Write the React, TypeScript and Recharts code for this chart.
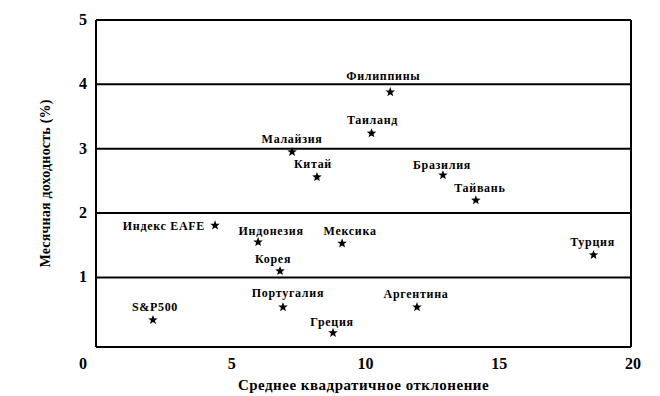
import React from 'react';
import { ScatterChart, Scatter, XAxis, YAxis, CartesianGrid, ReferenceLine, Label } from 'recharts';

const countries = ['Филиппины', 'Таиланд', 'Малайзия', 'Китай', 'Бразилия', 'Тайвань', 'Индекс EAFE', 'Индонезия', 'Мексика', 'Турция', 'Корея', 'Португалия', 'Аргентина', 'S&P500', 'Греция'];
const stdDev = [11.0, 10.3, 7.33, 8.26, 12.97, 14.2, 4.45, 6.06, 9.2, 18.6, 6.88, 6.99, 12.0, 2.13, 8.86];
const monthlyReturn = [3.88, 3.24, 2.95, 2.56, 2.59, 2.2, 1.81, 1.55, 1.53, 1.35, 1.1, 0.54, 0.54, 0.34, 0.14];
const xTicks = [0, 5, 10, 15, 20];
const yTicks = [1, 2, 3, 4, 5];
const xTitle = 'Среднее квадратичное отклонение';
const yTitle = 'Месячная доходность (%)';

const data = countries.map((name, i) => ({ name, x: stdDev[i], y: monthlyReturn[i] }));

// label placement relative to the star (style only)
const placement: Record<string, { dx: number; dy: number; anchor: 'middle' | 'end' | 'start' }> = {
  'Филиппины': { dx: -7, dy: -12, anchor: 'middle' },
  'Таиланд': { dx: 1, dy: -9, anchor: 'middle' },
  'Малайзия': { dx: 0, dy: -9, anchor: 'middle' },
  'Китай': { dx: -4, dy: -9, anchor: 'middle' },
  'Бразилия': { dx: -1, dy: -6, anchor: 'middle' },
  'Тайвань': { dx: 4, dy: -8, anchor: 'middle' },
  'Индекс EAFE': { dx: -10, dy: 5, anchor: 'end' },
  'Индонезия': { dx: 13, dy: -7, anchor: 'middle' },
  'Мексика': { dx: 8, dy: -8, anchor: 'middle' },
  'Турция': { dx: -1, dy: -9, anchor: 'middle' },
  'Корея': { dx: -7, dy: -8, anchor: 'middle' },
  'Португалия': { dx: 5, dy: -10, anchor: 'middle' },
  'Аргентина': { dx: -1, dy: -9, anchor: 'middle' },
  'S&P500': { dx: 2, dy: -9, anchor: 'middle' },
  'Греция': { dx: -1, dy: -7, anchor: 'middle' },
};

const FONT = "'Liberation Serif', 'Times New Roman', Times, serif";

function starPath(cx: number, cy: number, ro: number, ri: number) {
  let d = '';
  for (let i = 0; i < 10; i++) {
    const r = i % 2 === 0 ? ro : ri;
    const a = -Math.PI / 2 + (i * Math.PI) / 5;
    d += (i === 0 ? 'M' : 'L') + (cx + r * Math.cos(a)).toFixed(2) + ',' + (cy + r * Math.sin(a)).toFixed(2);
  }
  return d + 'Z';
}

const StarShape = (props: any) => {
  const { cx, cy, payload } = props;
  const p = placement[payload.name] || { dx: 0, dy: -9, anchor: 'middle' };
  return (
    <g>
      <path d={starPath(cx, cy, 5, 2.1)} fill="#000" />
      <text x={cx + p.dx} y={cy + p.dy} textAnchor={p.anchor} style={{ fontFamily: FONT, fontWeight: 'bold', fontSize: 12, letterSpacing: 0.7 }} fill="#000">
        {payload.name}
      </text>
    </g>
  );
};

const XTick = (props: any) => {
  const { x, y, payload } = props;
  const shift = payload.value === 0 ? -13 : 2;
  return (
    <text x={x + shift} y={y} dy={10} textAnchor="middle" style={{ fontFamily: FONT, fontWeight: 'bold', fontSize: 16 }} fill="#000">
      {payload.value}
    </text>
  );
};

const YTick = (props: any) => {
  const { x, y, payload } = props;
  return (
    <text x={x} y={y} dy={5} textAnchor="middle" style={{ fontFamily: FONT, fontWeight: 'bold', fontSize: 16 }} fill="#000">
      {payload.value}
    </text>
  );
};

export default function App() {
  return (
    <div style={{ position: 'absolute', left: 0, top: 0, background: '#fff' }}>
      <ScatterChart width={660} height={396} margin={{ top: 20, right: 29, bottom: 20, left: 36 }}>
        <CartesianGrid vertical={false} stroke="#000" strokeWidth={2} />
        <XAxis
          type="number"
          dataKey="x"
          domain={[0, 20]}
          ticks={xTicks}
          height={29}
          tickLine={false}
          tickSize={0}
          tickMargin={12}
          tick={<XTick />}
          axisLine={{ stroke: '#000', strokeWidth: 2 }}
          allowDataOverflow
        >
          <Label value={xTitle} position="insideBottom" offset={-14} style={{ fontFamily: FONT, fontWeight: 'bold', fontSize: 15, letterSpacing: 0.5 }} fill="#000" />
        </XAxis>
        <YAxis
          type="number"
          dataKey="y"
          domain={[-0.08, 5]}
          ticks={yTicks}
          width={60}
          tickLine={false}
          tickSize={0}
          tickMargin={13}
          tick={<YTick />}
          axisLine={{ stroke: '#000', strokeWidth: 2 }}
          allowDataOverflow
        >
          <Label value={yTitle} angle={-90} position="insideLeft" offset={9} dy={0} style={{ fontFamily: FONT, fontWeight: 'bold', fontSize: 14, letterSpacing: 0.2, textAnchor: 'middle' }} fill="#000" />
        </YAxis>
        <ReferenceLine x={20} stroke="#000" strokeWidth={2} />
        <Scatter data={data} shape={<StarShape />} isAnimationActive={false} />
      </ScatterChart>
    </div>
  );
}
